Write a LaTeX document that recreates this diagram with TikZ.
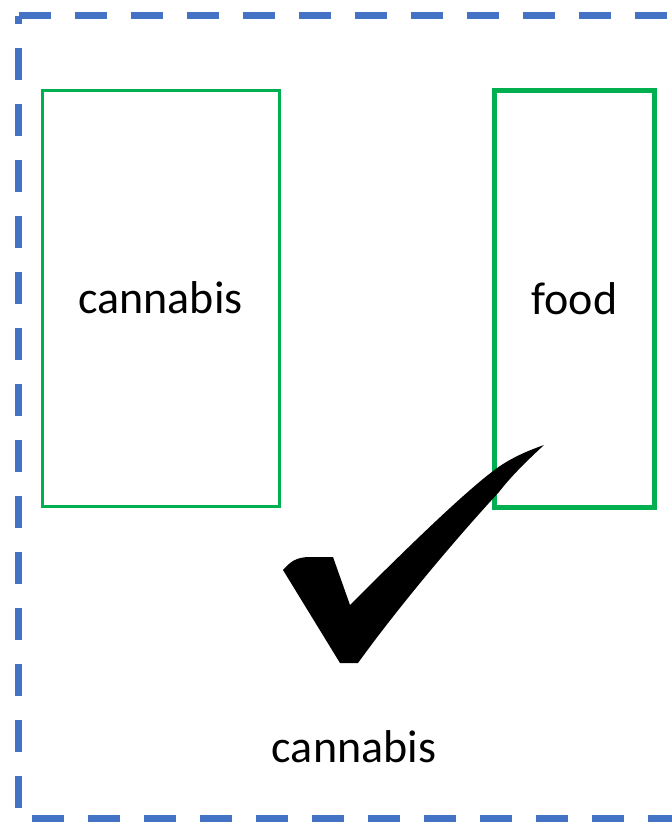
\documentclass[tikz,border=0pt]{standalone}
\usepackage{fontspec}
\setmainfont{Carlito}
\definecolor{dashblue}{HTML}{4472C4}
\definecolor{boxgreen}{HTML}{00B050}
\begin{document}
\begin{tikzpicture}[x=1pt,y=-1pt,
  lbl/.style={font=\fontsize{46}{50}\selectfont, text=black, inner sep=0pt},
  gbox/.style={draw=boxgreen, fill=none},
  frame/.style={dashblue, line width=7pt, dash pattern=on 32pt off 24pt}]
\useasboundingbox (0,0) rectangle (672,822);
\clip (0,0) rectangle (672,822);
% dashed frame
\draw[frame] (18.5,15.5) -- (675,15.5);
\draw[frame, dash phase=23.5pt] (18.5,15.5) -- (18.5,818);
\draw[frame, dash phase=42.5pt] (18.5,818) -- (675,818);
\draw[frame, dash phase=41.5pt] (675,15.5) -- (675,818);
% boxes
\node[gbox, line width=3pt, minimum width=237pt, minimum height=416pt, inner sep=0pt] (left) at (160.5,298) {};
\node[gbox, line width=5pt, minimum width=160pt, minimum height=417pt, inner sep=0pt] (right) at (574.5,298.5) {};
\node[lbl] (t1) at (left.center) {cannabis};
\node[lbl] (t2) at (right.center) {food};
\node[lbl] (t3) at (354,747) {cannabis};
% check mark
\fill[black] (283,570) .. controls (290,562) and (296,557) .. (310,557)
  -- (333,557) -- (350,605)
  .. controls (400,555) and (468,488) .. (500,466)
  .. controls (515,456) and (530,450) .. (544,445)
  .. controls (530,458) and (512,475) .. (499,492)
  .. controls (462,532) and (402,602) .. (358,663)
  -- (340,663) -- cycle;
\end{tikzpicture}
\end{document}
